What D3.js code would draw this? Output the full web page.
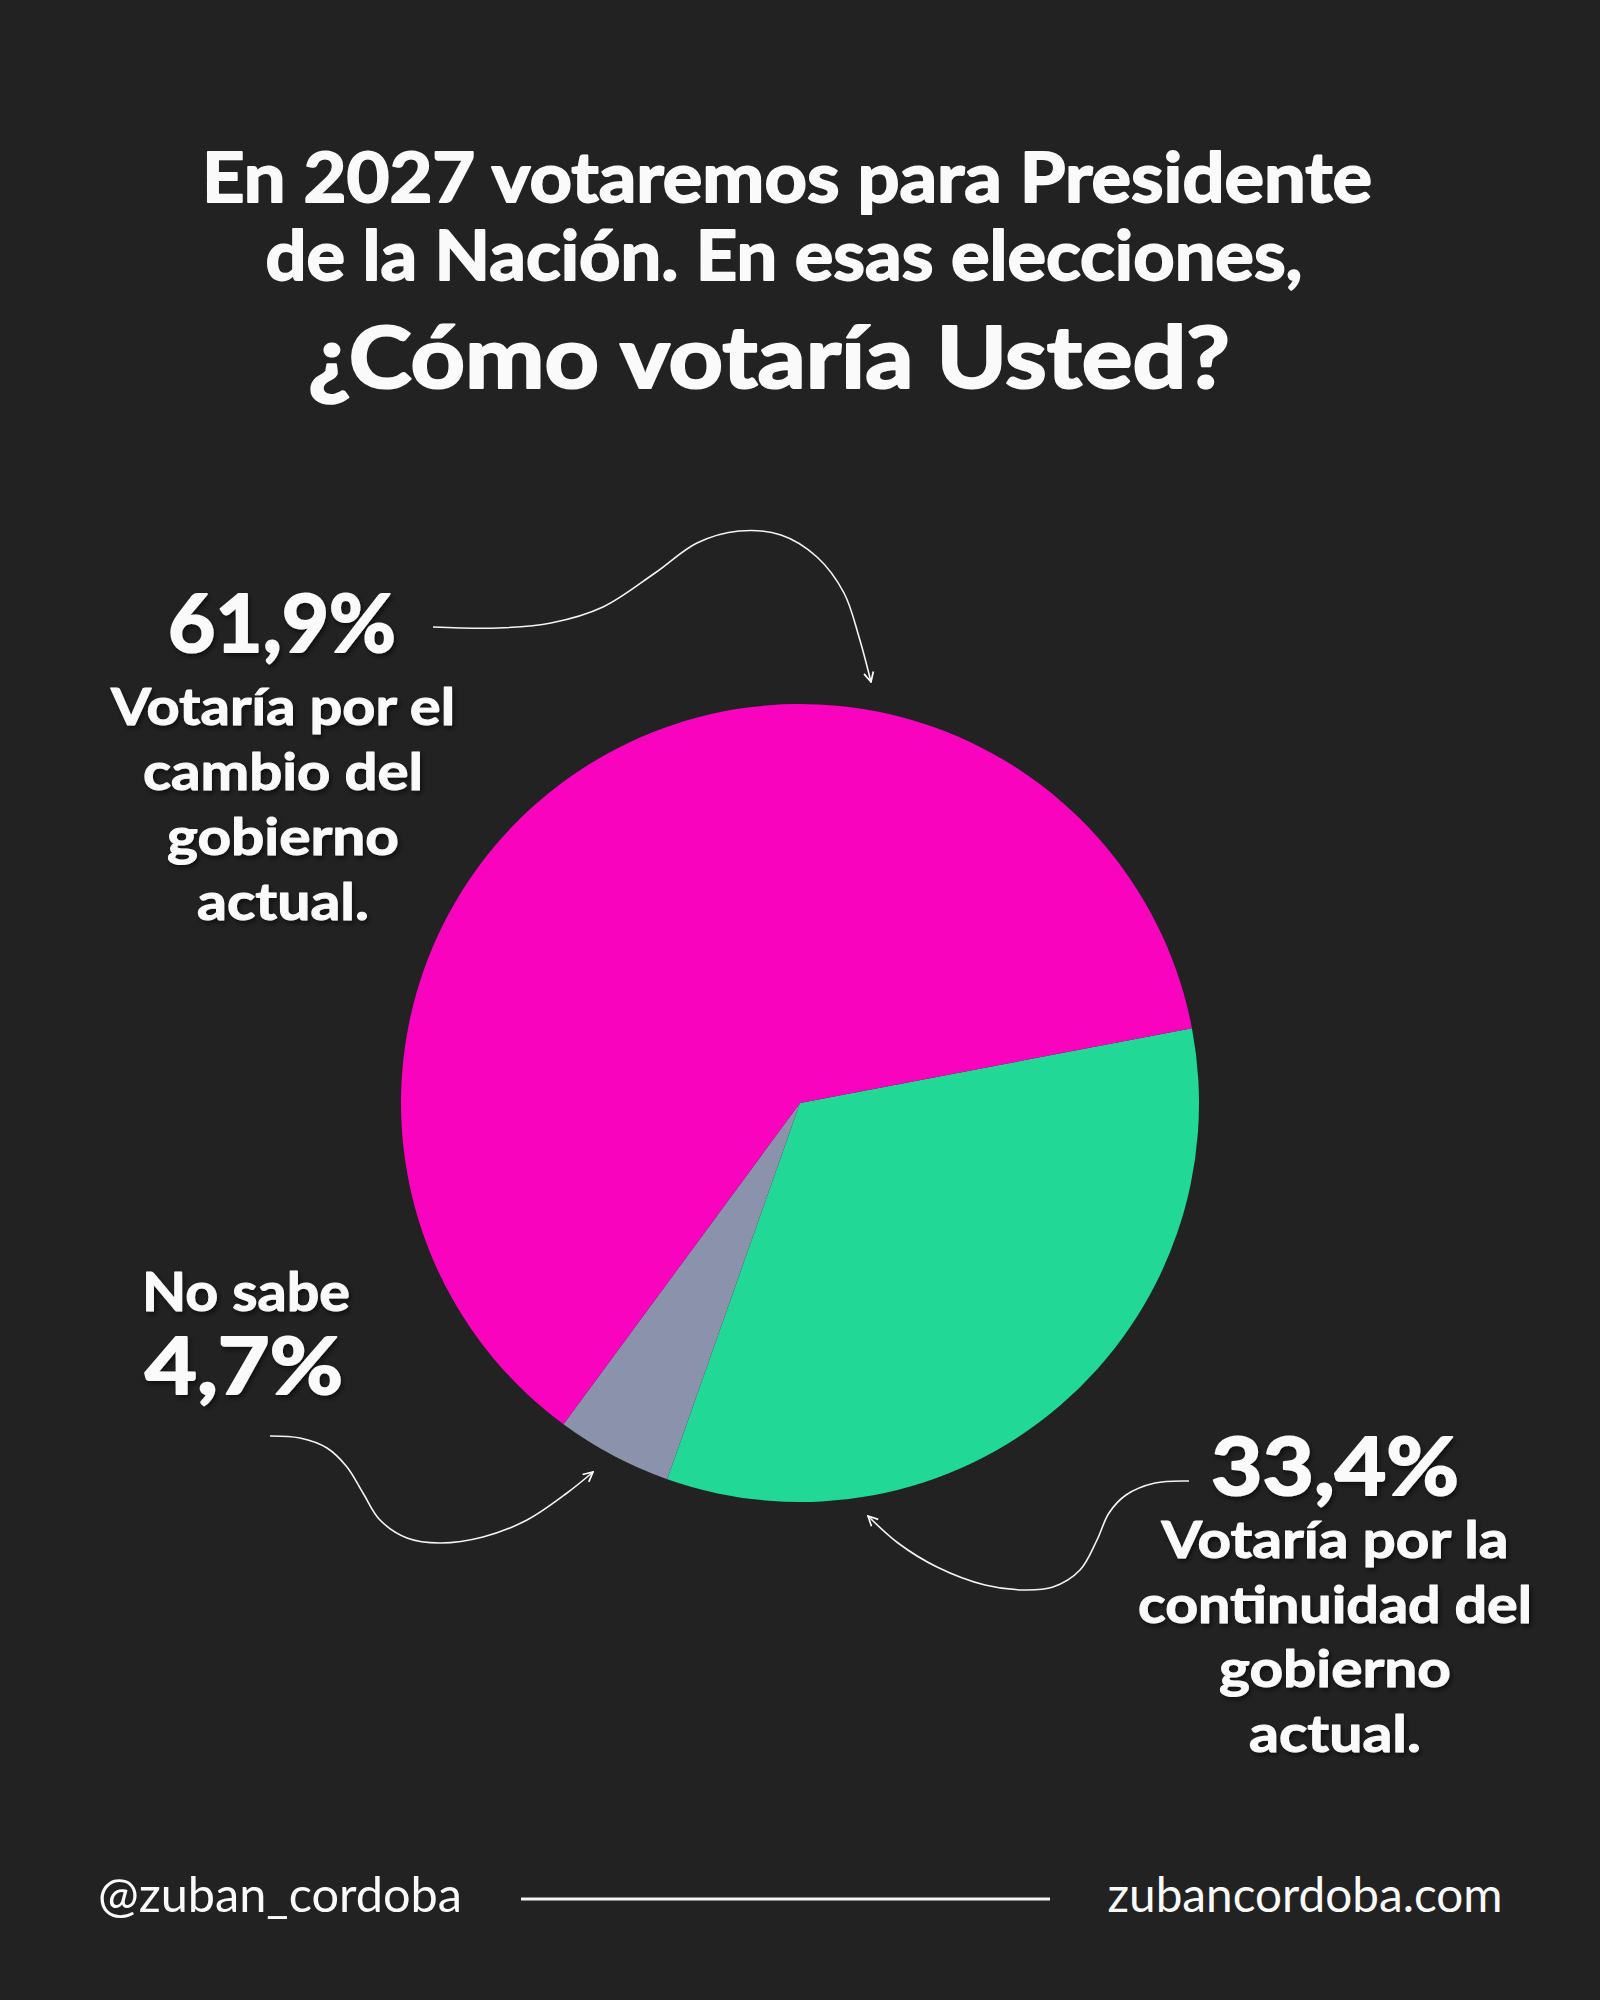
<!DOCTYPE html>
<html>
<head>
<meta charset="utf-8">
<script src="https://cdn.jsdelivr.net/npm/d3@7"></script>
<style>
  body { margin: 0; background: #222222; }
  svg { display: block; }
</style>
</head>
<body>
<svg width="1600" height="2000"></svg>
<script>
// data
let categories = ["continuidad", "no_sabe", "cambio"];
let values = [33.4, 4.7, 61.9];
let value_labels = ["33,4%", "4,7%", "61,9%"];
let colors = ["#22d897", "#8a93ab", "#fa03bf"];

let title_lines = [
    "En 2027 votaremos para Presidente",
    "de la Nación. En esas elecciones,",
    "¿Cómo votaría Usted?"
];
let cambio_lines = ["Votaría por el", "cambio del", "gobierno", "actual."];
let continuidad_lines = ["Votaría por la", "continuidad del", "gobierno", "actual."];
let nosabe_line = "No sabe";
let footer_left = "@zuban_cordoba";
let footer_right = "zubancordoba.com";

let svg = d3.select("svg"),
    width = +svg.attr("width"),
    height = +svg.attr("height");

svg.append("rect").attr("width", width).attr("height", height).attr("fill", "#222222");

let defs = svg.append("defs");
let shadow = defs.append("filter").attr("id", "shadow")
    .attr("x", "-10%").attr("y", "-20%").attr("width", "130%").attr("height", "150%");
shadow.append("feDropShadow")
    .attr("dx", 2).attr("dy", 3).attr("stdDeviation", 2.5)
    .attr("flood-color", "#000").attr("flood-opacity", 0.55);

defs.append("marker")
    .attr("id", "head")
    .attr("viewBox", "0 0 10 10")
    .attr("refX", 9).attr("refY", 5)
    .attr("markerWidth", 12).attr("markerHeight", 12)
    .attr("markerUnits", "userSpaceOnUse")
    .attr("orient", "auto")
  .append("path")
    .attr("d", "M1,1 L9,5 L1,9")
    .attr("fill", "none")
    .attr("stroke", "#fff")
    .attr("stroke-width", 1.4);

// text helper: place, then stretch to the measured width from the picture
// a thin stroke of the same colour makes Lato Bold closer to the heavy original
function addText(g, str, x, y, size, weight, w, shadowOn, thick) {
    let t = g.append("text")
        .attr("x", x).attr("y", y)
        .attr("text-anchor", "middle")
        .attr("font-family", "Lato, 'Open Sans', sans-serif")
        .attr("font-size", size)
        .attr("font-weight", weight)
        .attr("fill", "#fafafa")
        .text(str);
    if (w) t.attr("textLength", w).attr("lengthAdjust", "spacingAndGlyphs");
    if (thick) t.attr("stroke", "#fafafa").attr("stroke-width", thick).attr("stroke-linejoin", "round");
    if (shadowOn) t.attr("filter", "url(#shadow)");
    return t;
}

// title
let title = svg.append("g").attr("class", "title");
addText(title, title_lines[0], 787, 202, 68, 700, 1170, false, 1.8);
addText(title, title_lines[1], 784, 280, 68, 700, 1037, false, 1.8);
addText(title, title_lines[2], 769, 388, 86, 700, 922, false, 2.2);

// pie
let cx = 800, cy = 1103, radius = 399;
let start = 79.2 * Math.PI / 180;

let pie = d3.pie()
    .sort(null)
    .value(d => d)
    .startAngle(start)
    .endAngle(start + 2 * Math.PI);

let arc = d3.arc().innerRadius(0).outerRadius(radius);

svg.append("g")
    .attr("class", "pie")
    .attr("transform", `translate(${cx},${cy})`)
  .selectAll("path")
  .data(pie(values))
  .enter().append("path")
    .attr("d", arc)
    .attr("fill", (d, i) => colors[i]);

// labels
let labels = svg.append("g").attr("class", "labels");

addText(labels, value_labels[2], 282, 652, 80, 700, 228, true, 2);
let leftWidths = [344, 280, 232, 172];
cambio_lines.forEach((s, i) => {
    addText(labels, s, 283, 725 + i * 65, 52, 700, leftWidths[i], true, 1);
});

addText(labels, nosabe_line, 246, 1311, 54, 700, 208, true, 1);
addText(labels, value_labels[1], 244, 1394, 78, 700, 198, true, 2);

addText(labels, value_labels[0], 1335, 1495, 80, 700, 248, true, 2);
let rightWidths = [347, 394, 232, 172];
continuidad_lines.forEach((s, i) => {
    addText(labels, s, 1335, 1558 + i * 64.7, 52, 700, rightWidths[i], true, 1);
});

// arrows
let line = d3.line().curve(d3.curveCatmullRom.alpha(0.5));
let arrows = [
    [[433, 627], [498, 628], [551, 623], [603, 607], [655, 573], [697, 543], [739, 531],
     [781, 535], [817, 557], [844, 593], [859, 637], [871, 682]],
    [[270, 1436], [300, 1438], [327, 1448], [347, 1467], [363, 1493], [380, 1520], [407, 1538],
     [440, 1543], [483, 1537], [527, 1520], [567, 1493], [593, 1472]],
    [[1189, 1481], [1155, 1483], [1126, 1495], [1109, 1513], [1097, 1540], [1080, 1570],
     [1053, 1587], [1024, 1590], [985, 1585], [937, 1567], [898, 1543], [868, 1516]]
];
svg.append("g").attr("class", "arrows")
  .selectAll("path")
  .data(arrows)
  .enter().append("path")
    .attr("d", line)
    .attr("fill", "none")
    .attr("stroke", "#f4f4f4")
    .attr("stroke-width", 1.6)
    .attr("marker-end", "url(#head)");

// footer
let footer = svg.append("g").attr("class", "footer");
addText(footer, footer_left, 280, 1912, 48, 400, 364);
addText(footer, footer_right, 1305, 1912, 48, 400, 395);
footer.append("line")
    .attr("x1", 521).attr("x2", 1050)
    .attr("y1", 1899).attr("y2", 1899)
    .attr("stroke", "#f4f4f4")
    .attr("stroke-width", 3);
</script>
</body>
</html>
